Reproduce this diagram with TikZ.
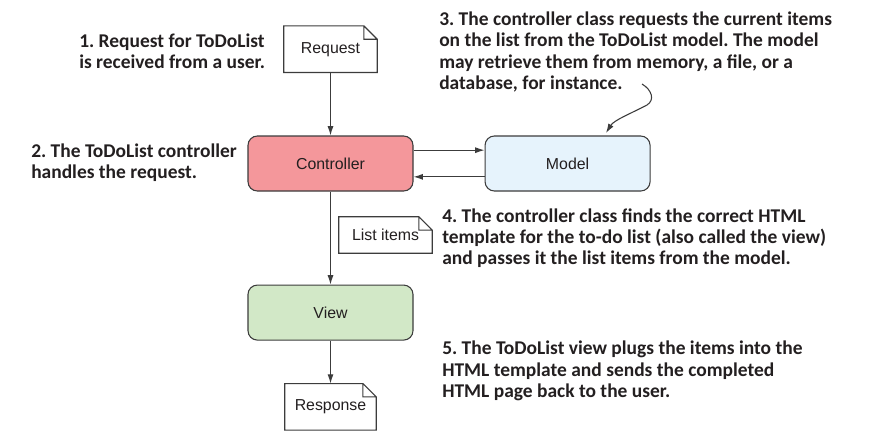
\documentclass[tikz,border=0pt]{standalone}
\usepackage{fontspec}
\setmainfont{Liberation Sans}
\newfontfamily\notefont{Carlito}
\usetikzlibrary{positioning,arrows.meta}
\frenchspacing

\definecolor{ctrlred}{HTML}{F4979B}
\definecolor{modelblue}{HTML}{E6F3FC}
\definecolor{viewgreen}{HTML}{D2E8C7}
\definecolor{linegray}{HTML}{3C3C3C}
\definecolor{inkblack}{HTML}{231F20}

\begin{document}
\begin{tikzpicture}[
  x=0.75pt, y=-0.75pt,
  node distance=47.25pt and 53.25pt,
  mvcnode/.style={draw=linegray,line width=0.8pt,rounded corners=7pt,minimum width=123.75pt,minimum height=41.25pt,font=\fontsize{11.9}{14}\selectfont,text=inkblack},
  docnode/.style={minimum width=69.75pt,minimum height=34.5pt,inner sep=0pt,font=\fontsize{11.9}{14}\selectfont,text=inkblack},
  docline/.style={draw=linegray,line width=0.8pt},
  note/.style={anchor=west,align=left,inner sep=0pt,font=\notefont\bfseries\fontsize{14.6}{15.9}\selectfont,text=inkblack},
  arr/.style={draw=linegray,line width=0.8pt,-{Latex[length=7pt,width=4.5pt]}}
  ]
  \fill[white] (0,0) rectangle (874,437);
  \useasboundingbox (0,0) rectangle (874,437);

  \node[mvcnode,fill=ctrlred] (ctrl) at (330.5,163.5) {Controller};
  \node[mvcnode,fill=modelblue,right=of ctrl] (model) {Model};
  \node[mvcnode,fill=viewgreen,below=69.75pt of ctrl] (view) {View};
  \node[docnode,above=of ctrl] (req) {Request};
  \node[docnode,below=32.25pt of view,minimum width=68.25pt] (resp) {Response};
  \node[docnode,minimum height=27pt] (items) at (385.5,235) {List items};

  % folded corners
  \foreach \n in {req,items,resp}
    \draw[docline] (\n.north west) -- ([xshift=-10pt]\n.north east) -- ([yshift=-10pt]\n.north east)
      -- (\n.south east) -- (\n.south west) -- cycle
      ([xshift=-10pt]\n.north east) |- ([yshift=-10pt]\n.north east);

  \path (req) edge[arr] (ctrl)
        ([yshift=10pt]ctrl.east) edge[arr] ([yshift=10pt]model.west)
        ([yshift=-10pt]model.west) edge[arr] ([yshift=-10pt]ctrl.east)
        (ctrl) edge[arr] (view)
        (view) edge[arr] (resp);

  \node[note] (n1) at (79,51) {1. Request for ToDoList\\is received from a user.};
  \node[note] (n2) at (31,162.5) {2. The ToDoList controller\\handles the request.};
  \node[note] (n3) at (439,52)
  {
  3. The controller class requests the current items\\
  on the list from the ToDoList model. The model\\
  may retrieve them from memory, a file, or a\\
  database, for instance.
  };
  \node[note] (n4) at (442,238)
  {
  4. The controller class finds the correct HTML\\
  template for the to-do list (also called the view)\\
  and passes it the list items from the model.
  };
  \node[note] (n5) at (442,371)
  {
  5. The ToDoList view plugs the items into the\\
  HTML template and sends the completed\\
  HTML page back to the user.
  };

  \coordinate (c3) at (642,84);
  \coordinate (c3bend) at (647,105);
  \coordinate (c3tip) at (606,133);
  \draw[arr] (c3) .. controls (652,90) and (655,100) .. (c3bend)
    .. controls (632,113) and (614,120) .. (c3tip);
\end{tikzpicture}
\end{document}
